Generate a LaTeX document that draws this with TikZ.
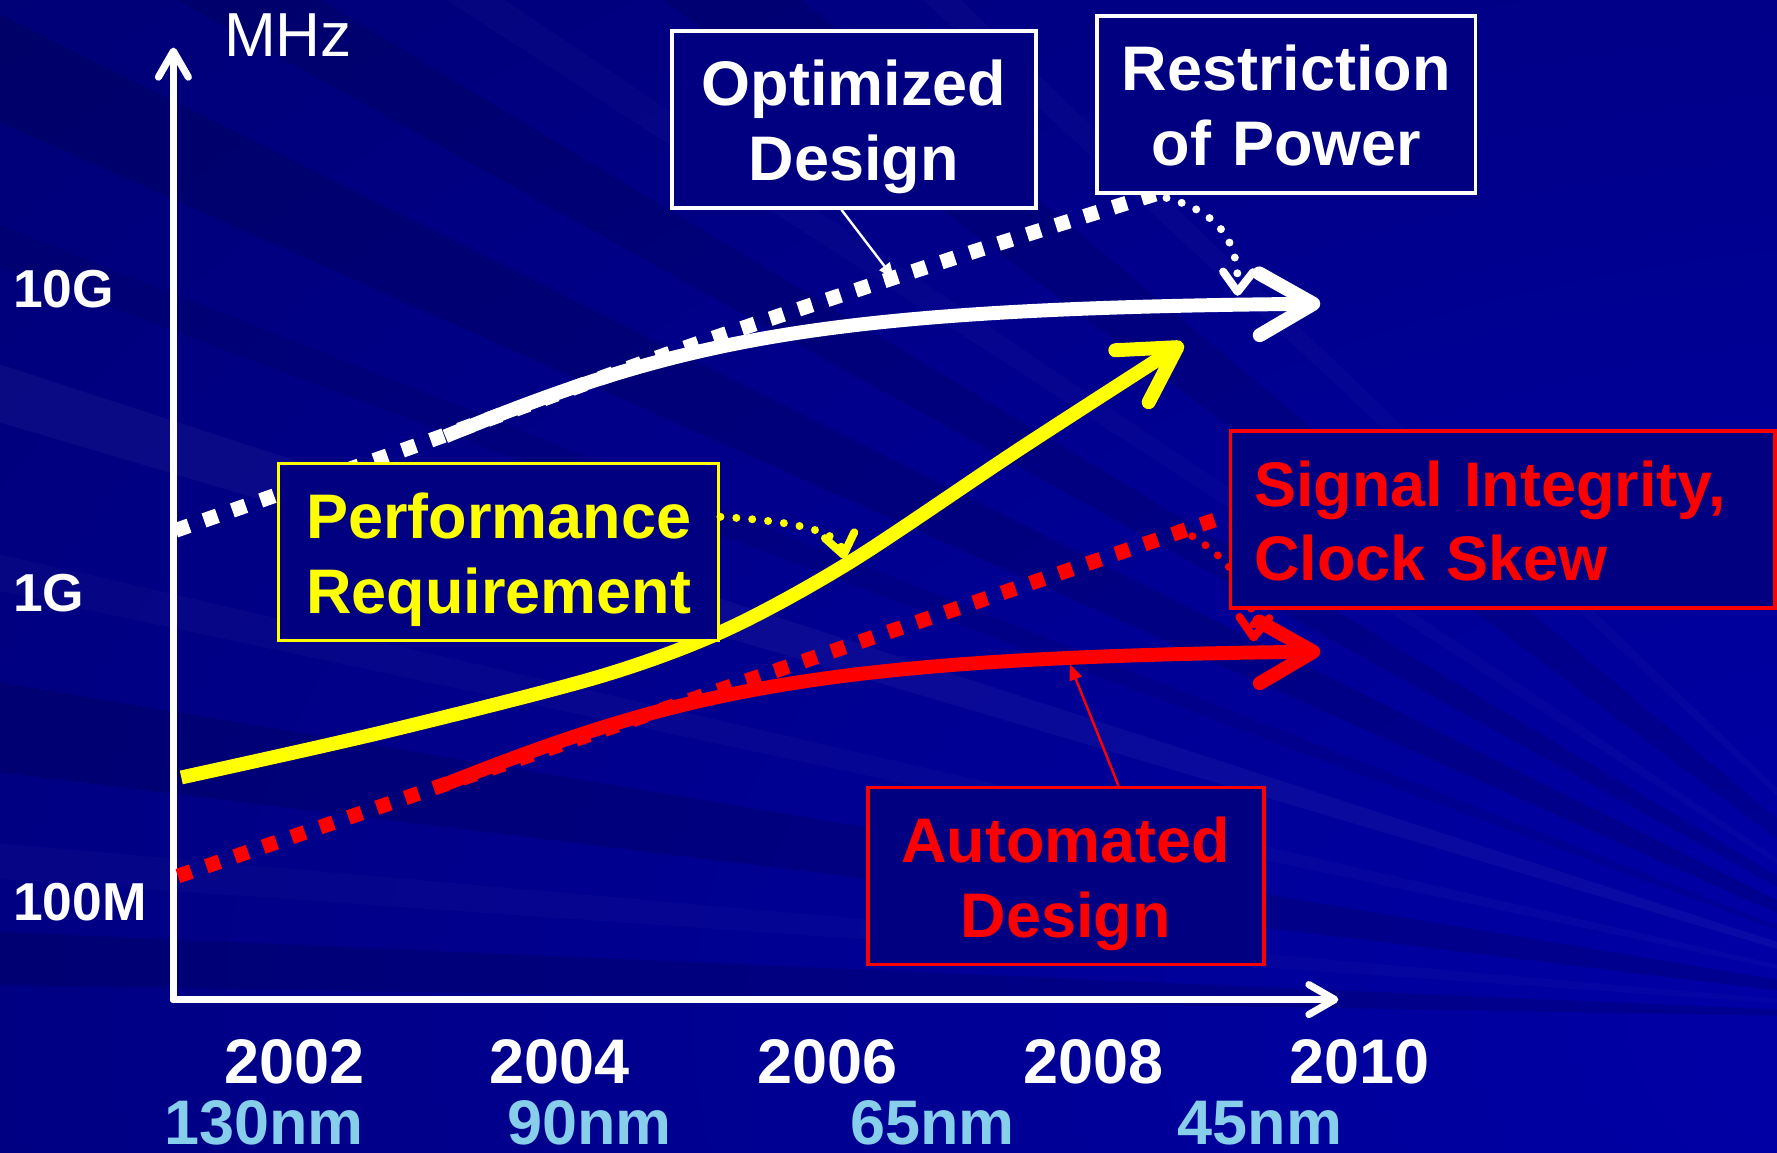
\documentclass[tikz,border=0pt]{standalone}
\usepackage{fontspec}
\setmainfont{Liberation Sans}
\usetikzlibrary{arrows.meta,calc}

\definecolor{bginner}{RGB}{0,0,170}
\definecolor{bgouter}{RGB}{0,0,74}
\definecolor{boxfill}{RGB}{0,0,128}
\definecolor{hiyellow}{RGB}{255,255,0}
\definecolor{hired}{RGB}{255,0,0}
\definecolor{nodecol}{RGB}{135,206,235}

% line metrics shared by all two-line labels
\newcommand\lnstrut{\rule[-0.12cm]{0pt}{0.66cm}}
\newcommand\labelfont{\fontsize{15.8pt}{18.78pt}\selectfont\bfseries}
\newcommand\tickfont{\fontsize{13.4pt}{16pt}\selectfont\bfseries}

\begin{document}
\begin{tikzpicture}[x=0.01cm, y=-0.01cm,
  labelbox/.style={draw, line width=0.9pt, fill=boxfill, inner sep=0pt,
    minimum height=1.56cm, font=\labelfont, align=center},
  axisline/.style={white, line width=1.8pt, line cap=round,
    -{Straight Barb[length=6.5pt,width=7.5pt,round]}},
  sqdots/.style={line width=0.13cm, dash pattern=on 0.125cm off 0.14cm},
  trend/.style={line width=3.5pt, line join=round,
    -{Straight Barb[length=13.5pt,width=15.5pt,round]}},
  ptr/.style={line width=2pt, line cap=round, dash pattern=on 0pt off 4pt,
    -{Straight Barb[length=5pt,width=7.5pt,round]}},
  lead/.style={line width=0.6pt, -{Triangle[length=4pt,width=3.2pt]}},
  tick/.style={text=white, font=\tickfont, inner sep=0pt, anchor=base west},
  year/.style={text=white, font=\labelfont, inner sep=0pt, anchor=base},
  nodesize/.style={text=nodecol, font=\labelfont, inner sep=0pt, anchor=base}]

\useasboundingbox (0,0) rectangle (1568,1017);

% background: blue glow from the lower right with faint rays
\coordinate (F) at (1780,900);
\begin{scope}
  \clip (0,0) rectangle (1568,1017);
  \fill[bgouter] (0,0) rectangle (1568,1017);
  \shade[inner color=bginner, outer color=bgouter] (F) ellipse (44cm and 26cm);
  \foreach \a/\b/\c/\o in {1/2.5/black/0.12, 4/5/white/0.02, 7/9.5/black/0.12,
      12/13/white/0.025, 16.5/18/white/0.04, 20.5/21.5/black/0.08,
      24/26.5/black/0.12, 29/31/black/0.11, 33/34/white/0.02,
      37/40/black/0.10, 43/44/white/0.02}
    \fill[\c, opacity=\o] (F) -- ($(F)+(180+\a:3000)$) -- ($(F)+(180+\b:3000)$) -- cycle;
\end{scope}

% axes
\coordinate (O) at (153,882);
\coordinate (Ytop) at (153,42);
\coordinate (Xend) at (1181,882);
\draw[axisline] (O) -- (Ytop);
\draw[axisline] (O) -- (Xend);

\node[text=white, font=\fontsize{15.6pt}{18pt}\selectfont, inner sep=0pt,
  anchor=base west] (mhz) at (197,50) {MHz};
\node[tick] (t10g) at (11,271) {10G};
\node[tick] (t1g) at (11,540) {1G};
\node[tick] (t100m) at (11,812) {100M};

\node[year] (y2002) at (260,956) {2002};
\node[year] (y2004) at (494,956) {2004};
\node[year] (y2006) at (730,956) {2006};
\node[year] (y2008) at (965,956) {2008};
\node[year] (y2010) at (1200,956) {2010};

\node[nodesize] (n130) at (233,1010) {130nm};
\node[nodesize] (n90) at (520,1010) {90nm};
\node[nodesize] (n65) at (823,1010) {65nm};
\node[nodesize] (n45) at (1112,1010) {45nm};

% dotted trends
\draw[sqdots, white] plot[smooth] coordinates
  {(155,468) (373,391) (610,305) (853,224) (1030,168)};
\draw[sqdots, hired] (157,773) -- (1080,456);

% solid trends
\draw[trend, white] (393,385) .. controls (600,300) and (720,272) .. (1165,268);
\draw[trend, hiyellow] plot[smooth] coordinates
  {(160,686) (338,646) (529,597) (640,556) (750,496) (900,396) (1044,303)};
\draw[trend, hired] (393,692) .. controls (600,610) and (720,580) .. (1165,575);

% pointer from the clock-skew label, partly under its box
\coordinate (sigFrom) at (1040,466);
\coordinate (sigTip) at (1106,566);
\draw[ptr, hired] (sigFrom) .. controls (1075,485) and (1108,515) .. (sigTip);

% labels
\node[labelbox, draw=white, text=white, minimum width=3.21cm, text width=3.21cm]
  (opt) at (753.5,105.5) {\lnstrut Optimized\\\lnstrut Design};
\node[labelbox, draw=white, text=white, minimum width=3.34cm, text width=3.34cm]
  (res) at (1135,92) {\lnstrut Restriction\\\lnstrut of Power};
\node[labelbox, draw=hiyellow, text=hiyellow, minimum width=3.88cm, text width=3.88cm]
  (perf) at (440,487) {\lnstrut Performance\\\lnstrut Requirement};
\node[labelbox, draw=hired, text=hired, align=left, inner xsep=0.21cm,
  minimum width=4.80cm, text width=4.38cm]
  (sig) at (1326,458.5) {\lnstrut Signal Integrity,\\\lnstrut Clock Skew};
\node[labelbox, draw=hired, text=hired, minimum width=3.49cm, text width=3.49cm]
  (auto) at (940.5,773) {\lnstrut Automated\\\lnstrut Design};

% pointers from the labels
\coordinate (optTip) at (789,246);
\draw[lead, white] ($(opt.south)+(-11,0)$) -- (optTip);
\coordinate (autoTip) at (944,586);
\draw[lead, hired] ($(auto.north)+(46.5,0)$) -- (autoTip);
\coordinate (resTip) at (1092,261);
\draw[ptr, white] ($(res.south west)+(63,3)$) .. controls (1078,188) and (1093,215) .. (resTip);
\coordinate (perfTip) at (745,493);
\draw[ptr, hiyellow] (perf.9) .. controls (700,460) and (740,468) .. (perfTip);

\end{tikzpicture}
\end{document}
